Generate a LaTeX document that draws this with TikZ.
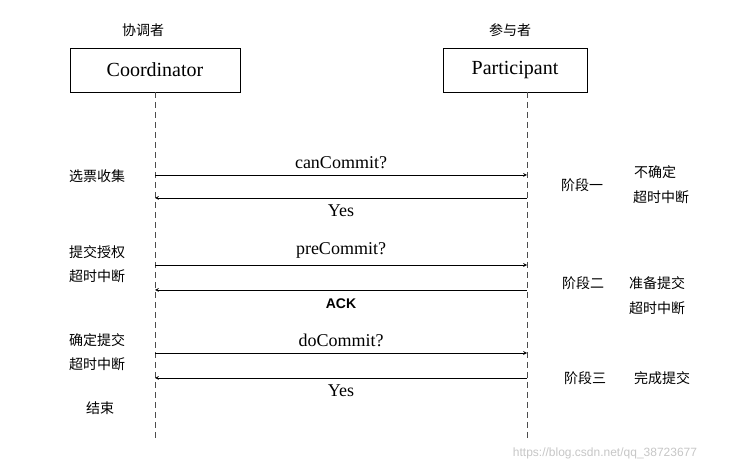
\documentclass[tikz,border=0pt]{standalone}
\usepackage{fontspec}
\setmainfont{Liberation Serif}
\newfontfamily\cjk{Noto Sans CJK SC}
\newfontfamily\sans{Liberation Sans}
\begin{document}
\begin{tikzpicture}[x=1pt,y=-1pt,
  box/.style={draw,line width=0.8pt,minimum width=#1,minimum height=44pt,font=\fontsize{20}{22}\selectfont},
  zh/.style={font=\cjk\fontsize{14}{16}\selectfont},
  lbl/.style={font=\fontsize{18}{20}\selectfont},
  life/.style={dash pattern=on 6pt off 4pt,line width=0.7pt,gray!60!black},
  msg/.style={->,>=stealth,line width=0.7pt}]
\useasboundingbox (0,0) rectangle (737,470);
\node[zh] (t1) at (143,30) {协调者};
\node[zh] (t2) at (510,30) {参与者};
\node[box=170pt] (c) at (155,70) {Coordinator};
\node[box=144pt] (p) at (515,70) {Participant};
\coordinate (ce) at (155,440); \coordinate (pe) at (527,440);
\coordinate (pt) at (527,92);
\draw[life] (c.south) -- (ce);
\draw[life] (pt) -- (pe);
\foreach \n/\y in {a/175,b/198,c/265,d/290,e/353,f/378}{
  \coordinate (l\n) at (155,\y); \coordinate (r\n) at (527,\y);}
\draw[msg] (la) -- node[lbl,above=3pt]{canCommit?} (ra);
\draw[msg] (rb) -- node[lbl,below=3pt]{Yes} (lb);
\draw[msg] (lc) -- node[lbl,above=3pt]{preCommit?} (rc);
\draw[msg] (rd) -- node[below=5pt,font=\sans\bfseries\fontsize{14}{16}\selectfont]{ACK} (ld);
\draw[msg] (le) -- node[lbl,above=3pt]{doCommit?} (re);
\draw[msg] (rf) -- node[lbl,below=3pt]{Yes} (lf);
\node[zh] (x1) at (97,176) {选票收集};
\node[zh] (x2) at (97,252) {提交授权};
\node[zh] (x3) at (97,276) {超时中断};
\node[zh] (x4) at (97,340) {确定提交};
\node[zh] (x5) at (97,364) {超时中断};
\node[zh] (x6) at (100,408) {结束};
\node[zh] (y1) at (582,185) {阶段一};
\node[zh] (y2) at (655,172) {不确定};
\node[zh] (y3) at (661,197) {超时中断};
\node[zh] (y4) at (583,283) {阶段二};
\node[zh] (y5) at (657,283) {准备提交};
\node[zh] (y6) at (657,308) {超时中断};
\node[zh] (y7) at (585,378) {阶段三};
\node[zh] (y8) at (662,378) {完成提交};
\node[font=\sans\fontsize{12}{14}\selectfont,gray!45] (w) at (605,453) {https://blog.csdn.net/qq\_38723677};
\end{tikzpicture}
\end{document}
